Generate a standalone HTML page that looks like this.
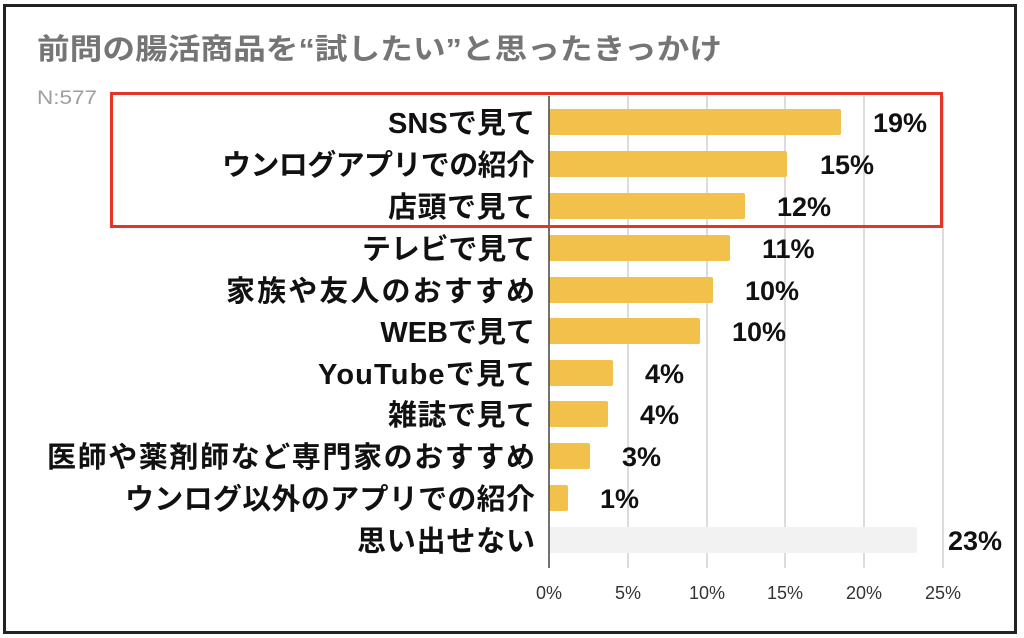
<!DOCTYPE html>
<html><head><meta charset="utf-8"><style>
body{margin:0;background:#fff;width:1024px;height:638px;overflow:hidden;font-family:"Liberation Sans","Noto Sans CJK JP",sans-serif}
</style></head><body>
<svg width="1024" height="638" xmlns="http://www.w3.org/2000/svg" style="position:absolute;left:0;top:0">
<rect x="4.5" y="5.5" width="1011" height="627" fill="#fff" stroke="#222" stroke-width="3"/>
<text x="37" y="59" font-size="29" font-weight="bold" fill="#757575" textLength="685" lengthAdjust="spacingAndGlyphs" font-family="Liberation Sans,Noto Sans CJK JP,sans-serif">前問の腸活商品を“試したい”と思ったきっかけ</text>
<text x="37" y="104" font-size="19" fill="#9e9e9e" textLength="60" lengthAdjust="spacingAndGlyphs" font-family="Liberation Sans,sans-serif">N:577</text>
<g stroke="#d0d0d0" stroke-width="1.5">
<line x1="628" y1="96" x2="628" y2="568"/><line x1="707" y1="96" x2="707" y2="568"/><line x1="785" y1="96" x2="785" y2="568"/><line x1="864" y1="96" x2="864" y2="568"/><line x1="943" y1="96" x2="943" y2="568"/>
</g>
<g fill="#f2c14b">
<rect x="549" y="109" width="292" height="26" rx="2"/>
<rect x="549" y="151" width="238" height="26" rx="2"/>
<rect x="549" y="193" width="196" height="26" rx="2"/>
<rect x="549" y="235" width="181" height="26" rx="2"/>
<rect x="549" y="277" width="164" height="26" rx="2"/>
<rect x="549" y="318" width="151" height="26" rx="2"/>
<rect x="549" y="360" width="64" height="26" rx="2"/>
<rect x="549" y="401" width="59" height="26" rx="2"/>
<rect x="549" y="443" width="41" height="26" rx="2"/>
<rect x="549" y="485" width="19" height="26" rx="2"/>
</g>
<rect x="549" y="527" width="368" height="26" rx="2" fill="#f2f2f3"/>
<line x1="549" y1="96" x2="549" y2="568" stroke="#444" stroke-width="1.5"/>
<g font-size="29" font-weight="bold" fill="#111" lengthAdjust="spacingAndGlyphs" font-family="Liberation Sans,Noto Sans CJK JP,sans-serif">
<text x="388" y="133" textLength="147">SNSで見て</text>
<text x="222" y="175" textLength="313">ウンログアプリでの紹介</text>
<text x="388" y="217" textLength="147">店頭で見て</text>
<text x="362" y="259" textLength="173">テレビで見て</text>
<text x="226" y="301" textLength="309">家族や友人のおすすめ</text>
<text x="535" y="342" text-anchor="end">WEBで見て</text>
<text x="318" y="384" textLength="217">YouTubeで見て</text>
<text x="388" y="425" textLength="147">雑誌で見て</text>
<text x="47" y="467" textLength="488">医師や薬剤師など専門家のおすすめ</text>
<text x="125" y="509" textLength="410">ウンログ以外のアプリでの紹介</text>
<text x="357" y="551" textLength="178">思い出せない</text>
</g>
<g font-size="27" font-weight="bold" fill="#111" font-family="Liberation Sans,sans-serif">
<text x="873" y="132">19%</text>
<text x="820" y="174">15%</text>
<text x="777" y="216">12%</text>
<text x="762" y="258">11%</text>
<text x="745" y="300">10%</text>
<text x="732" y="341">10%</text>
<text x="645" y="383">4%</text>
<text x="640" y="424">4%</text>
<text x="622" y="466">3%</text>
<text x="600" y="508">1%</text>
<text x="948" y="550">23%</text>
</g>
<g font-size="18" fill="#333" text-anchor="middle" font-family="Liberation Sans,sans-serif">
<text x="549" y="599">0%</text><text x="628" y="599">5%</text><text x="707" y="599">10%</text><text x="785" y="599">15%</text><text x="864" y="599">20%</text><text x="943" y="599">25%</text>
</g>
<rect x="111.5" y="93.5" width="830" height="133" fill="none" stroke="#e53528" stroke-width="3"/>
</svg>
</body></html>
